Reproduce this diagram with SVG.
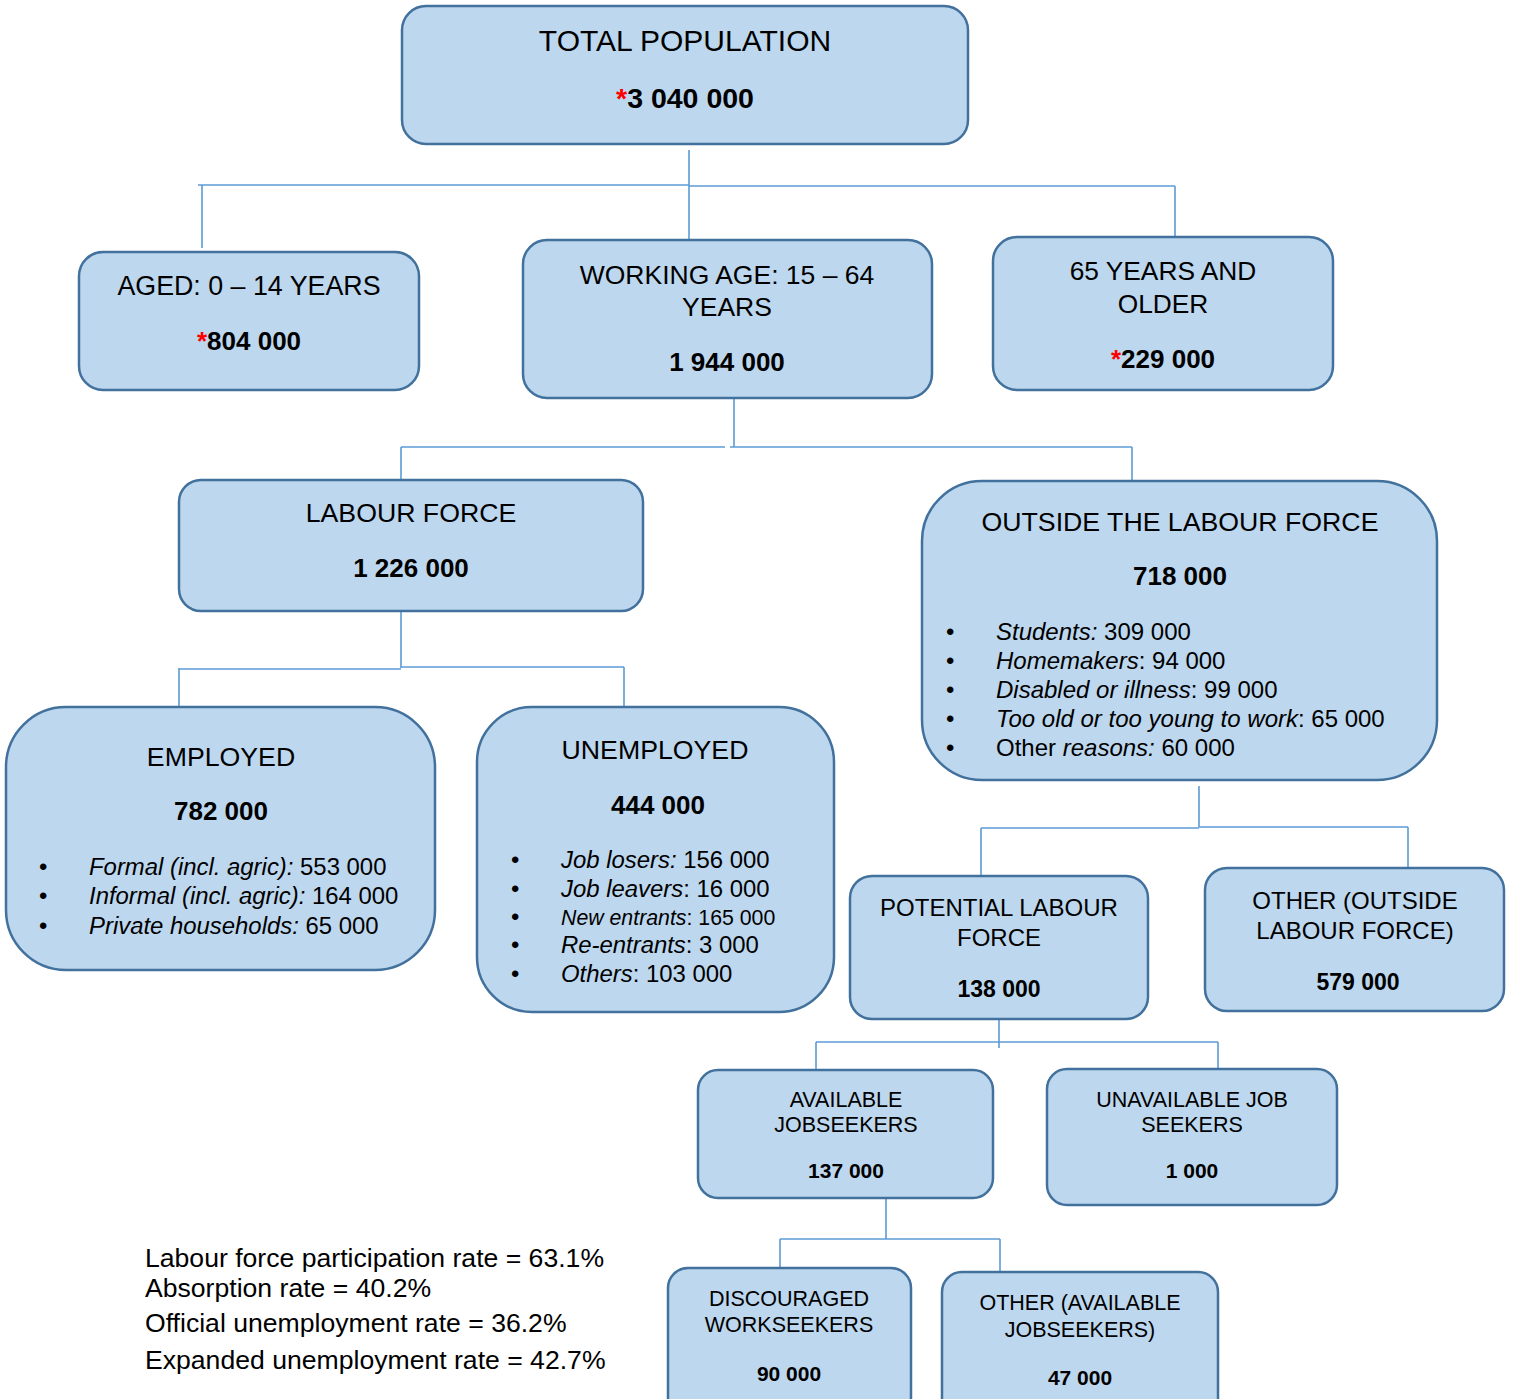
<svg xmlns="http://www.w3.org/2000/svg" width="1515" height="1399" viewBox="0 0 1515 1399">
<style>
.box{fill:#bdd7ee;stroke:#41719c;stroke-width:2.5}
text{font-family:"Liberation Sans",Arial,sans-serif;fill:#000}
.c{text-anchor:middle}
.b{font-weight:bold}
.i{font-style:italic}
.r{fill:#ff0000}
.bl{font-size:26px}
.conn line{stroke:#5b9bd5;stroke-width:1.6}
</style>
<rect width="1515" height="1399" fill="#ffffff"/>
<g class="conn" id="connectors">
<line x1="689" y1="150" x2="689" y2="240"/>
<line x1="198" y1="185" x2="689" y2="185"/>
<line x1="689" y1="186" x2="1175" y2="186"/>
<line x1="202" y1="185" x2="202" y2="248"/>
<line x1="1175" y1="186" x2="1175" y2="251"/>
<line x1="734" y1="398" x2="734" y2="447"/>
<line x1="401" y1="447" x2="725" y2="447"/>
<line x1="730" y1="447" x2="1132" y2="447"/>
<line x1="401" y1="447" x2="401" y2="499"/>
<line x1="1132" y1="447" x2="1132" y2="506"/>
<line x1="401" y1="611" x2="401" y2="668"/>
<line x1="179" y1="669" x2="401" y2="669"/>
<line x1="401" y1="667" x2="624" y2="667"/>
<line x1="179" y1="668" x2="179" y2="707"/>
<line x1="624" y1="667" x2="624" y2="716"/>
<line x1="1199" y1="786" x2="1199" y2="827"/>
<line x1="981" y1="828" x2="1199" y2="828"/>
<line x1="1199" y1="827" x2="1408" y2="827"/>
<line x1="981" y1="828" x2="981" y2="886"/>
<line x1="1408" y1="827" x2="1408" y2="874"/>
<line x1="999" y1="1013" x2="999" y2="1048"/>
<line x1="816" y1="1042" x2="1218" y2="1042"/>
<line x1="816" y1="1042" x2="816" y2="1070"/>
<line x1="1218" y1="1042" x2="1218" y2="1068"/>
<line x1="886" y1="1198" x2="886" y2="1239"/>
<line x1="780" y1="1239" x2="1000" y2="1239"/>
<line x1="780" y1="1239" x2="780" y2="1271"/>
<line x1="1000" y1="1239" x2="1000" y2="1271"/>
</g>
<g id="total-population">
<rect class="box" x="402" y="6" width="566" height="138" rx="24"/>
<text class="c" x="685" y="51" font-size="30">TOTAL POPULATION</text>
<text class="c b" x="685" y="108" font-size="28.5"><tspan class="r">*</tspan>3 040 000</text>
</g>
<g id="aged-0-14">
<rect class="box" x="79" y="252" width="340" height="138" rx="24"/>
<text class="c" x="249" y="295" font-size="26.8">AGED: 0 – 14 YEARS</text>
<text class="c b" x="249" y="350" font-size="26"><tspan class="r">*</tspan>804 000</text>
</g>
<g id="working-age">
<rect class="box" x="523" y="240" width="409" height="158" rx="24"/>
<text class="c" x="727" y="284" font-size="26.5">WORKING AGE: 15 – 64</text>
<text class="c" x="727" y="316" font-size="26.5">YEARS</text>
<text class="c b" x="727" y="371" font-size="26">1 944 000</text>
</g>
<g id="aged-65-plus">
<rect class="box" x="993" y="237" width="340" height="153" rx="24"/>
<text class="c" x="1163" y="280" font-size="26.3">65 YEARS AND</text>
<text class="c" x="1163" y="313" font-size="26.3">OLDER</text>
<text class="c b" x="1163" y="368" font-size="26"><tspan class="r">*</tspan>229 000</text>
</g>
<g id="labour-force">
<rect class="box" x="179" y="480" width="464" height="131" rx="22"/>
<text class="c" x="411" y="522" font-size="26.7">LABOUR FORCE</text>
<text class="c b" x="411" y="577" font-size="26">1 226 000</text>
</g>
<g id="outside-labour-force">
<rect class="box" x="922" y="481" width="515" height="299" rx="60"/>
<text class="c" x="1180" y="531" font-size="26.7">OUTSIDE THE LABOUR FORCE</text>
<text class="c b" x="1180" y="585" font-size="26">718 000</text>
<g font-size="24">
<text x="946" y="640">•</text><text x="996" y="640"><tspan class="i">Students:</tspan> 309 000</text>
<text x="946" y="669">•</text><text x="996" y="669"><tspan class="i">Homemakers</tspan>: 94 000</text>
<text x="946" y="698">•</text><text x="996" y="698"><tspan class="i">Disabled or illness</tspan>: 99 000</text>
<text x="946" y="727">•</text><text x="996" y="727"><tspan class="i">Too old or too young to work</tspan>: 65 000</text>
<text x="946" y="756">•</text><text x="996" y="756">Other <tspan class="i">reasons:</tspan> 60 000</text>
</g>
</g>
<g id="employed">
<rect class="box" x="6" y="707" width="429" height="263" rx="60"/>
<text class="c" x="221" y="766" font-size="26.7">EMPLOYED</text>
<text class="c b" x="221" y="820" font-size="26">782 000</text>
<g font-size="23.9">
<text x="39" y="875">•</text><text x="89" y="875"><tspan class="i">Formal (incl. agric):</tspan> 553 000</text>
<text x="39" y="904">•</text><text x="89" y="904"><tspan class="i">Informal (incl. agric):</tspan> 164 000</text>
<text x="39" y="934">•</text><text x="89" y="934"><tspan class="i">Private households:</tspan> 65 000</text>
</g>
</g>
<g id="unemployed">
<rect class="box" x="477" y="707" width="357" height="305" rx="55"/>
<text class="c" x="655" y="759" font-size="26.7">UNEMPLOYED</text>
<text class="c b" x="658" y="814" font-size="26">444 000</text>
<g font-size="23.9">
<text x="511" y="868">•</text><text x="561" y="868"><tspan class="i">Job losers:</tspan> 156 000</text>
<text x="511" y="897">•</text><text x="561" y="897"><tspan class="i">Job leavers</tspan>: 16 000</text>
<text x="511" y="925">•</text><text x="561" y="925" font-size="21.3"><tspan class="i">New entrants</tspan>: 165 000</text>
<text x="511" y="953">•</text><text x="561" y="953"><tspan class="i">Re-entrants</tspan>: 3 000</text>
<text x="511" y="982">•</text><text x="561" y="982"><tspan class="i">Others</tspan>: 103 000</text>
</g>
</g>
<g id="potential-labour-force">
<rect class="box" x="850" y="876" width="298" height="143" rx="22"/>
<text class="c" x="999" y="916" font-size="24">POTENTIAL LABOUR</text>
<text class="c" x="999" y="946" font-size="24">FORCE</text>
<text class="c b" x="999" y="997" font-size="23">138 000</text>
</g>
<g id="other-outside-labour-force">
<rect class="box" x="1205" y="868" width="299" height="143" rx="22"/>
<text class="c" x="1355" y="909" font-size="24">OTHER (OUTSIDE</text>
<text class="c" x="1355" y="939" font-size="24">LABOUR FORCE)</text>
<text class="c b" x="1358" y="990" font-size="23">579 000</text>
</g>
<g id="available-jobseekers">
<rect class="box" x="698" y="1070" width="295" height="128" rx="20"/>
<text class="c" x="846" y="1107" font-size="21.5">AVAILABLE</text>
<text class="c" x="846" y="1132" font-size="21.5">JOBSEEKERS</text>
<text class="c b" x="846" y="1178" font-size="21">137 000</text>
</g>
<g id="unavailable-jobseekers">
<rect class="box" x="1047" y="1069" width="290" height="136" rx="20"/>
<text class="c" x="1192" y="1107" font-size="21.5">UNAVAILABLE JOB</text>
<text class="c" x="1192" y="1132" font-size="21.5">SEEKERS</text>
<text class="c b" x="1192" y="1178" font-size="21">1 000</text>
</g>
<g id="discouraged-workseekers">
<rect class="box" x="668" y="1268" width="243" height="150" rx="20"/>
<text class="c" x="789" y="1306" font-size="21.5">DISCOURAGED</text>
<text class="c" x="789" y="1332" font-size="21.5">WORKSEEKERS</text>
<text class="c b" x="789" y="1381" font-size="21">90 000</text>
</g>
<g id="other-available-jobseekers">
<rect class="box" x="942" y="1272" width="276" height="150" rx="20"/>
<text class="c" x="1080" y="1310" font-size="21.5">OTHER (AVAILABLE</text>
<text class="c" x="1080" y="1337" font-size="21.5">JOBSEEKERS)</text>
<text class="c b" x="1080" y="1385" font-size="21">47 000</text>
</g>
<g id="rates" font-size="26.6">
<text x="145" y="1267">Labour force participation rate = 63.1%</text>
<text x="145" y="1297">Absorption rate = 40.2%</text>
<text x="145" y="1332">Official unemployment rate = 36.2%</text>
<text x="145" y="1369">Expanded unemployment rate = 42.7%</text>
</g>
</svg>
